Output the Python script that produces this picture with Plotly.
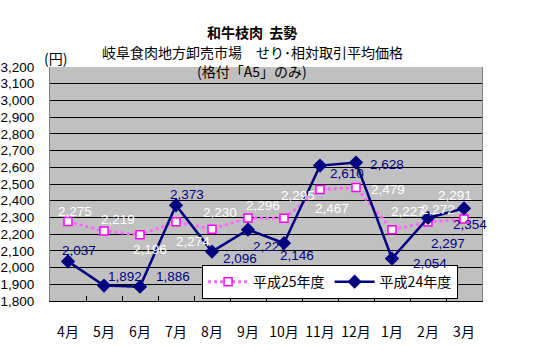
import plotly.graph_objects as go

months = ["4月", "5月", "6月", "7月", "8月", "9月", "10月", "11月", "12月", "1月", "2月", "3月"]
h25 = [2275, 2219, 2196, 2274, 2230, 2296, 2295, 2467, 2479, 2227, 2272, 2291]
h24 = [2037, 1892, 1886, 2373, 2096, 2227, 2146, 2610, 2628, 2054, 2297, 2354]
y_ticks = list(range(1800, 3201, 100))

# label offsets (px, right / down) for each data label
h25_off = [(7, -10), (14, -11), (10, 15), (17, 20), (8, -17), (15, -13),
           (14, -23), (12, 19), (32, 2), (16, -18), (10, -13), (-9, -23)]
h24_off = [(11, -11), (21, -9), (33, -10), (11, -11), (28, 7), (22, 17),
           (13, 12), (27, 8), (31, 2), (38, 5), (20, 26), (6, 16)]

FONT = "Arial, Liberation Sans, Noto Sans CJK JP, sans-serif"
JFONT = "Noto Sans CJK JP, sans-serif"

fig = go.Figure()
fig.add_trace(go.Scatter(
    x=months, y=h25, name="平成25年度", mode="lines+markers",
    line=dict(color="#FF66FF", width=3, dash="dot"),
    marker=dict(symbol="square", size=8, color="white",
                line=dict(color="#FF00FF", width=1.5)),
))
fig.add_trace(go.Scatter(
    x=months, y=h24, name="平成24年度", mode="lines+markers",
    line=dict(color="#000080", width=2.5),
    marker=dict(symbol="diamond", size=11, color="#000080"),
))

annotations = []
for m, v, (dx, dy) in zip(months, h25, h25_off):
    annotations.append(dict(x=m, y=v, xref="x", yref="y", text=f"{v:,}",
                            showarrow=False, xshift=dx, yshift=-dy,
                            xanchor="center", yanchor="middle",
                            font=dict(family=FONT, size=13.5, color="white")))
for m, v, (dx, dy) in zip(months, h24, h24_off):
    annotations.append(dict(x=m, y=v, xref="x", yref="y", text=f"{v:,}",
                            showarrow=False, xshift=dx, yshift=-dy,
                            xanchor="center", yanchor="middle",
                            font=dict(family=FONT, size=13.5, color="#000080")))

# titles and unit label, placed in paper coordinates
annotations += [
    dict(x=0.468, y=1.150, xref="paper", yref="paper", text="<b>和牛枝肉  去勢</b>",
         xanchor="center", yanchor="middle",
         showarrow=False, font=dict(family=JFONT, size=14, color="black")),
    dict(x=0.468, y=1.064, xref="paper", yref="paper",
         text="岐阜食肉地方卸売市場　せり･相対取引平均価格",
         xanchor="center", yanchor="middle",
         showarrow=False, font=dict(family=JFONT, size=14, color="black")),
    dict(x=0.468, y=0.985, xref="paper", yref="paper", text="(格付「A5」のみ)",
         xanchor="center", yanchor="middle",
         showarrow=False, font=dict(family=JFONT, size=14, color="black")),
    dict(x=-0.019, y=1.040, xref="paper", yref="paper", text="(円)",
         xanchor="left", yanchor="middle",
         showarrow=False, font=dict(family=JFONT, size=14, color="black")),
]

fig.update_layout(
    width=550, height=350,
    margin=dict(l=50, r=68, t=67, b=49, autoexpand=False),
    paper_bgcolor="white", plot_bgcolor="#C0C0C0",
    font=dict(family=FONT, size=13.5, color="black"),
    showlegend=True,
    legend=dict(orientation="h", x=0.352, y=0.081, xanchor="left", yanchor="middle",
                bgcolor="white", bordercolor="black", borderwidth=1,
                font=dict(family=JFONT, size=14, color="black"),
                tracegroupgap=0, itemwidth=40),
    annotations=annotations,
)
fig.update_xaxes(
    type="category", range=[-0.5, 11.5], automargin=False,
    showgrid=False, showline=True, linecolor="black", linewidth=1, mirror=False,
    ticks="inside", tickson="boundaries", ticklen=5, tickcolor="black",
    tickangle=0, ticklabelstandoff=18, tickfont=dict(family=JFONT, size=14),
)
fig.update_yaxes(
    range=[1800, 3200], tickvals=y_ticks, tickformat=",", automargin=False,
    showgrid=True, gridcolor="black", gridwidth=1,
    showline=True, linecolor="#808080", linewidth=1, mirror=True,
    ticks="", ticklabelstandoff=12, zeroline=False,
)

fig.write_html("out.html")
